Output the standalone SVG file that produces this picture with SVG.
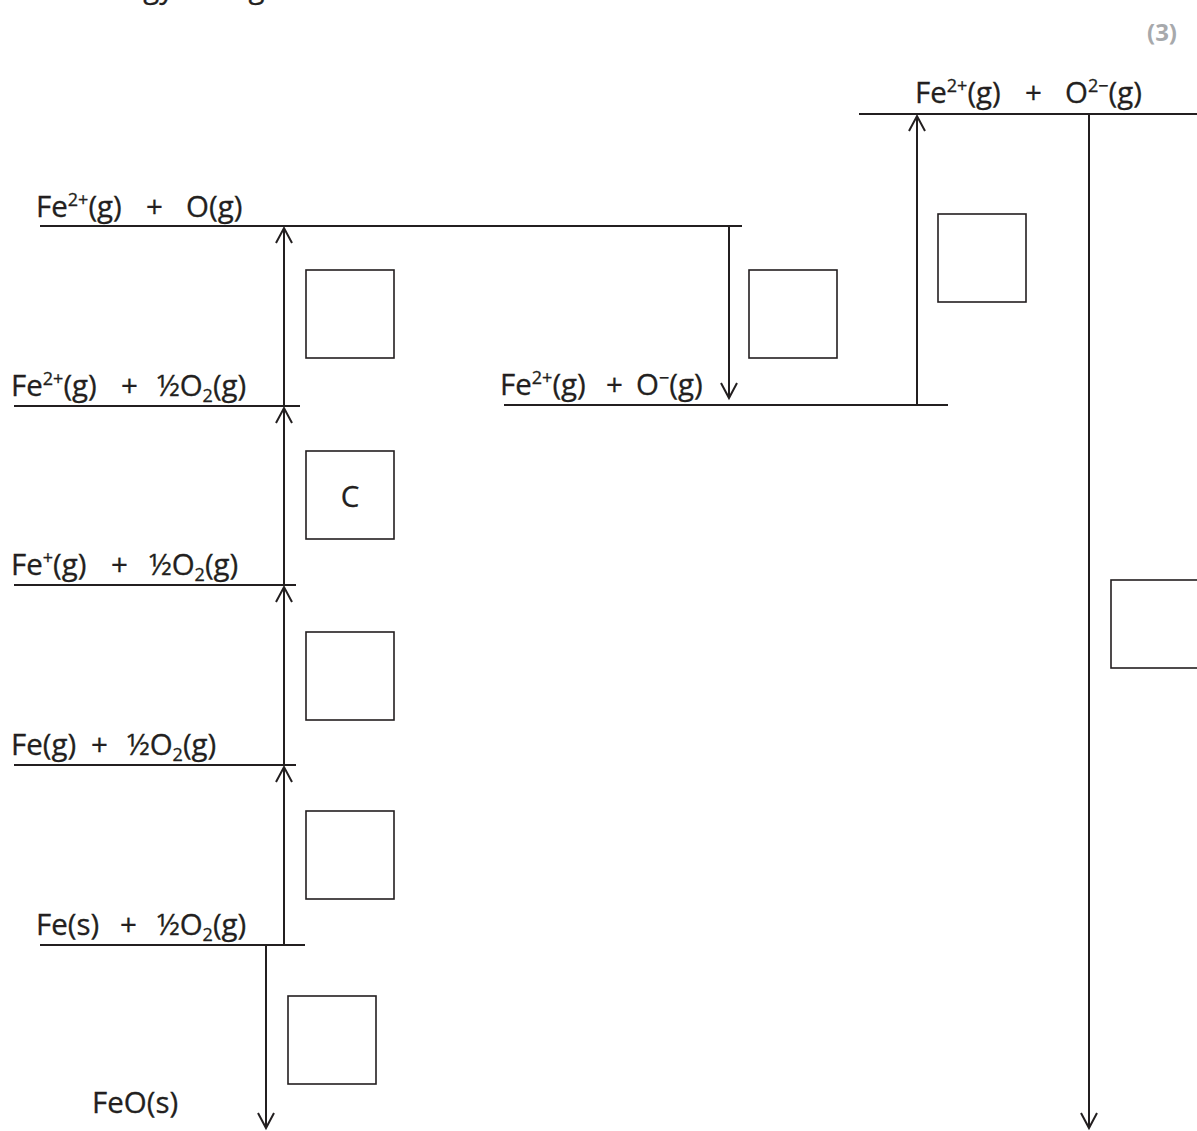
<svg xmlns="http://www.w3.org/2000/svg" width="1197" height="1131" viewBox="0 0 1197 1131">
<style>
.lab{font-family:"Open Sans","Noto Sans",sans-serif;font-size:29.5px;fill:#231f20;stroke:#231f20;stroke-width:0.3}
.sup{font-size:18px}
.sub{font-size:18px}
.lvl{stroke:#231f20;stroke-width:2;fill:none}
.arr{stroke:#231f20;stroke-width:2;fill:none;marker-end:url(#ah)}
.box{stroke:#231f20;stroke-width:1.6;fill:#fff}
.mark{font-family:"Open Sans","Noto Sans",sans-serif;font-size:24px;font-weight:bold;fill:#a7a9ac}
</style>
<defs>
<marker id="ah" markerUnits="userSpaceOnUse" markerWidth="20" markerHeight="20" viewBox="-16 -10 18 20" refX="0" refY="0" orient="auto">
<path d="M-15,-8 L0,0 L-15,8" fill="none" stroke="#231f20" stroke-width="2"/>
</marker>
</defs>
<rect width="1197" height="1131" fill="#fff"/>
<text class="lab" x="80" y="-2">energy change</text>
<text class="mark" x="1177" y="41" text-anchor="end">(3)</text>

<g id="connectors">
<line class="arr" x1="284" y1="406" x2="284" y2="228"/>
<line class="arr" x1="284" y1="585" x2="284" y2="408"/>
<line class="arr" x1="284" y1="765" x2="284" y2="587"/>
<line class="arr" x1="284" y1="945" x2="284" y2="767"/>
<line class="arr" x1="266" y1="945" x2="266" y2="1128"/>
<line class="arr" x1="729" y1="226" x2="729" y2="398"/>
<line class="arr" x1="917" y1="405" x2="917" y2="116"/>
<line class="arr" x1="1089" y1="114" x2="1089" y2="1128"/>
</g>

<g id="level-fe2-o">
<line class="lvl" x1="40" y1="226" x2="742" y2="226"/>
<text class="lab" x="36" y="217">Fe<tspan class="sup" dy="-11">2+</tspan><tspan dy="11">(g)</tspan></text>
<text class="lab" x="146" y="217">+</text>
<text class="lab" x="186" y="217">O(g)</text>
</g>
<g id="level-fe2-halfo2">
<line class="lvl" x1="14" y1="406" x2="300" y2="406"/>
<text class="lab" x="11" y="396">Fe<tspan class="sup" dy="-11">2+</tspan><tspan dy="11">(g)</tspan></text>
<text class="lab" x="121" y="396">+</text>
<text class="lab" x="157" y="396">½O<tspan class="sub" dy="6">2</tspan><tspan dy="-6">(g)</tspan></text>
</g>
<g id="level-fe1-halfo2">
<line class="lvl" x1="14" y1="585" x2="296" y2="585"/>
<text class="lab" x="11" y="575">Fe<tspan class="sup" dy="-11">+</tspan><tspan dy="11">(g)</tspan></text>
<text class="lab" x="111" y="575">+</text>
<text class="lab" x="149" y="575">½O<tspan class="sub" dy="6">2</tspan><tspan dy="-6">(g)</tspan></text>
</g>
<g id="level-feg-halfo2">
<line class="lvl" x1="14" y1="765" x2="296" y2="765"/>
<text class="lab" x="11" y="755">Fe(g)</text>
<text class="lab" x="91" y="755">+</text>
<text class="lab" x="127" y="755">½O<tspan class="sub" dy="6">2</tspan><tspan dy="-6">(g)</tspan></text>
</g>
<g id="level-fes-halfo2">
<line class="lvl" x1="40" y1="945" x2="305" y2="945"/>
<text class="lab" x="36" y="935">Fe(s)</text>
<text class="lab" x="120" y="935">+</text>
<text class="lab" x="157" y="935">½O<tspan class="sub" dy="6">2</tspan><tspan dy="-6">(g)</tspan></text>
</g>
<g id="level-feo">
<text class="lab" x="92" y="1113">FeO(s)</text>
</g>
<g id="level-fe2-ominus">
<line class="lvl" x1="504" y1="405" x2="948" y2="405"/>
<text class="lab" x="500" y="395">Fe<tspan class="sup" dy="-11">2+</tspan><tspan dy="11">(g)</tspan></text>
<text class="lab" x="606" y="395">+</text>
<text class="lab" x="636" y="395">O<tspan class="sup" dy="-11">−</tspan><tspan dy="11">(g)</tspan></text>
</g>
<g id="level-fe2-o2minus">
<line class="lvl" x1="859" y1="114" x2="1197" y2="114"/>
<text class="lab" x="915" y="103">Fe<tspan class="sup" dy="-11">2+</tspan><tspan dy="11">(g)</tspan></text>
<text class="lab" x="1025" y="103">+</text>
<text class="lab" x="1065" y="103">O<tspan class="sup" dy="-11">2−</tspan><tspan dy="11">(g)</tspan></text>
</g>

<g id="box-atomisation-o"><rect class="box" x="306" y="270" width="88" height="88"/></g>
<g id="box-c"><rect class="box" x="306" y="451" width="88" height="88"/><text class="lab" x="350" y="507" text-anchor="middle">C</text></g>
<g id="box-ie1"><rect class="box" x="306" y="632" width="88" height="88"/></g>
<g id="box-atomisation-fe"><rect class="box" x="306" y="811" width="88" height="88"/></g>
<g id="box-formation"><rect class="box" x="288" y="996" width="88" height="88"/></g>
<g id="box-ea1"><rect class="box" x="749" y="270" width="88" height="88"/></g>
<g id="box-ea2"><rect class="box" x="938" y="214" width="88" height="88"/></g>
<g id="box-lattice"><rect class="box" x="1111" y="580" width="100" height="88"/></g>
</svg>
